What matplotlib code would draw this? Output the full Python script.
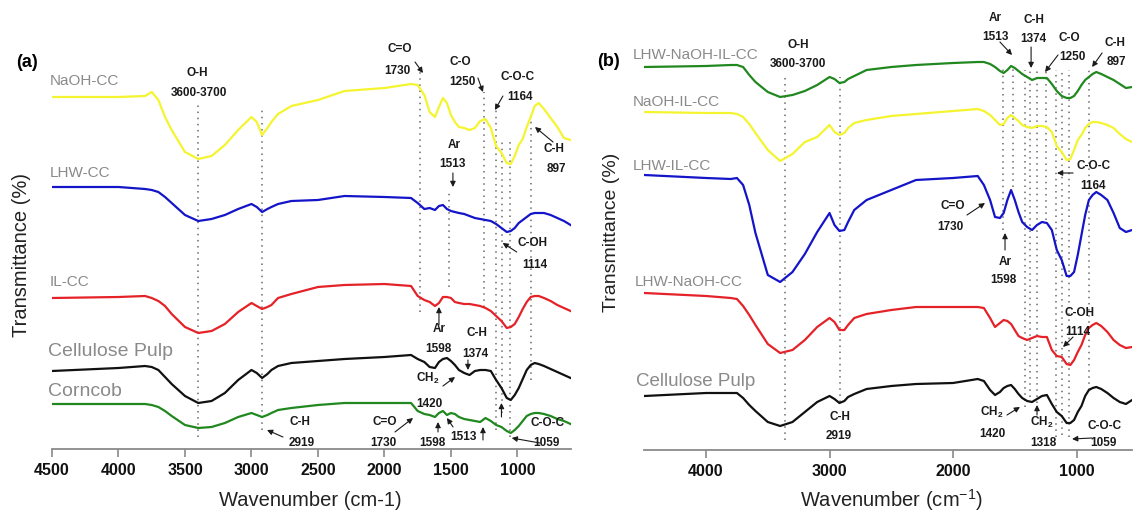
import matplotlib
matplotlib.use('Agg')
import matplotlib.pyplot as plt

plt.rcParams['font.family'] = ['Liberation Sans', 'DejaVu Sans']
plt.rcParams['mathtext.fontset'] = 'custom'
plt.rcParams['mathtext.rm'] = 'Liberation Sans'
plt.rcParams['mathtext.it'] = 'Liberation Sans:italic'
plt.rcParams['mathtext.bf'] = 'Liberation Sans:bold'

# ---------------- panel (a): wavenumber grid and offset transmittance ----------------
wn_a = [4500, 4000, 3800, 3750, 3700, 3650, 3600, 3500, 3400, 3300,
        3200, 3100, 3000, 2960, 2920, 2880, 2850, 2800, 2700, 2500,
        2300, 2000, 1800, 1750, 1700, 1660, 1620, 1590, 1560, 1530,
        1500, 1470, 1440, 1400, 1360, 1320, 1280, 1240, 1200, 1160,
        1120, 1080, 1050, 1020, 990, 960, 930, 900, 870, 840,
        800, 750, 700, 650, 600]

naoh_cc = [352, 352, 353, 357, 349, 332, 319, 297, 290, 293,
           304, 319, 332, 327, 314, 321, 327, 335, 343, 349,
           358, 361, 365, 364, 354, 337, 332, 342, 351, 346,
           334, 327, 322, 321, 319, 321, 328, 330, 321, 303,
           296, 286, 285, 293, 304, 310, 322, 332, 343, 346,
           340, 331, 322, 311, 309]
lhw_cc = [262, 262, 260, 259, 257, 252, 246, 234, 228, 230,
          234, 240, 245, 242, 237, 240, 242, 245, 248, 249,
          253, 252, 251, 246, 240, 241, 239, 243, 244, 240,
          238, 237, 236, 235, 233, 231, 230, 229, 228, 225,
          221, 217, 218, 221, 226, 229, 232, 235, 236, 236,
          236, 234, 231, 228, 224]
il_cc = [151, 152, 153, 151, 148, 143, 135, 122, 116, 118,
         125, 137, 146, 143, 140, 142, 144, 151, 155, 162,
         164, 165, 163, 153, 149, 147, 143, 146, 152, 152,
         151, 147, 146, 145, 145, 144, 143, 141, 138, 133,
         128, 121, 122, 125, 132, 140, 147, 152, 153, 153,
         151, 148, 144, 141, 138]
pulp_a = [78, 81, 83, 82, 79, 72, 65, 53, 46, 48,
          56, 69, 79, 76, 71, 75, 79, 83, 86, 88,
          90, 92, 94, 90, 87, 82, 81, 87, 90, 91,
          88, 84, 79, 76, 74, 78, 79, 79, 78, 69,
          61, 51, 49, 54, 61, 70, 79, 84, 86, 85,
          83, 80, 77, 74, 71]
corncob = [45, 45, 45, 44, 42, 38, 33, 24, 21, 22,
           26, 32, 36, 34, 32, 34, 36, 39, 41, 44,
           46, 46, 46, 38, 35, 34, 32, 36, 38, 34,
           36, 35, 32, 30, 29, 28, 27, 31, 28, 24,
           22, 18, 16, 19, 23, 28, 33, 35, 36, 36,
           35, 33, 30, 28, 25]

# ---------------- panel (b) ----------------
wn_b = [4500, 4000, 3800, 3750, 3700, 3650, 3600, 3500, 3400, 3300,
        3200, 3100, 3000, 2960, 2920, 2880, 2850, 2800, 2700, 2500,
        2300, 2000, 1800, 1750, 1700, 1660, 1620, 1590, 1560, 1530,
        1500, 1470, 1440, 1400, 1360, 1320, 1280, 1240, 1200, 1160,
        1120, 1080, 1050, 1020, 990, 960, 930, 900, 870, 840,
        800, 750, 700, 650, 600, 550]

lhw_naoh_il_cc = [383, 384, 385, 385, 383, 375, 368, 358, 353, 355,
                  359, 365, 373, 371, 367, 368, 371, 374, 380, 383,
                  385, 387, 388, 388, 386, 383, 379, 377, 380, 384,
                  382, 379, 376, 373, 370, 372, 372, 372, 366, 359,
                  354, 352, 352, 354, 359, 365, 370, 373, 376, 378,
                  376, 373, 370, 366, 362, 363]
naoh_il_cc = [338, 337, 337, 336, 333, 326, 317, 300, 289, 296,
              308, 313, 325, 318, 315, 317, 322, 327, 330, 334,
              336, 339, 341, 339, 335, 330, 325, 326, 332, 335,
              332, 329, 325, 323, 322, 324, 324, 323, 318, 304,
              298, 290, 291, 300, 310, 315, 322, 326, 328, 328,
              327, 325, 322, 316, 311, 308]
lhw_il_cc = [275, 272, 271, 272, 265, 245, 217, 175, 168, 178,
             196, 218, 237, 225, 219, 220, 228, 240, 250, 260,
             270, 272, 274, 265, 250, 233, 232, 237, 250, 260,
             250, 238, 228, 223, 220, 225, 228, 227, 220, 200,
             190, 174, 174, 178, 195, 215, 235, 250, 255, 258,
             255, 250, 237, 222, 218, 220]
lhw_naoh_cc = [157, 154, 152, 151, 144, 135, 125, 106, 97, 100,
               110, 123, 132, 128, 120, 120, 125, 132, 136, 140,
               143, 143, 143, 142, 132, 123, 127, 130, 129, 126,
               120, 114, 112, 110, 112, 114, 113, 113, 100, 94,
               93, 86, 85, 90, 98, 105, 115, 122, 125, 127,
               124, 118, 110, 105, 102, 103]
pulp_b = [54, 57, 57, 57, 52, 45, 39, 28, 24, 28,
          38, 48, 54, 51, 47, 49, 53, 56, 61, 64,
          66, 67, 71, 69, 60, 55, 58, 62, 64, 65,
          61, 56, 52, 49, 48, 51, 54, 55, 46, 38,
          34, 27, 27, 30, 38, 44, 54, 60, 62, 63,
          61, 57, 52, 48, 46, 50]

# band markers: (wavenumber, bottom, top)
bands_a = [(3400, 12, 347), (2919, 19, 339), (1730, 137, 379), (1513, 162, 259),
           (1250, 142, 357), (1164, 19, 339), (1114, 36, 311), (1059, 12, 307),
           (897, 69, 337)]
bands_b = [(3360, 10, 373), (2919, 48, 373), (1598, 220, 383), (1513, 263, 383),
           (1420, 43, 380), (1374, 53, 380), (1318, 47, 380), (1250, 230, 380),
           (1164, 13, 380), (1114, 15, 380), (1059, 13, 380), (897, 60, 383)]

# peak labels: (text, wavenumber, height)
labels_a = [('O-H', 3410, 376), ('3600-3700', 3395, 356),
            ('C=O', 1883, 400), ('1730', 1906, 378),
            ('C-O', 1432, 387), ('1250', 1417, 367),
            ('C-O-C', 996, 372), ('1164', 981, 352),
            ('Ar', 1477, 304), ('1513', 1485, 285),
            ('C-H', 725, 300), ('897', 710, 280),
            ('C-OH', 890, 206), ('1114', 868, 184),
            ('Ar', 1590, 120), ('1598', 1597, 100),
            ('C-H', 1304, 116), ('1374', 1319, 95),
            (r'CH$_{\mathbf{2}}$', 1672, 71), ('1420', 1665, 45),
            ('C-H', 2635, 27), ('2919', 2620, 6),
            ('C=O', 1996, 27), ('1730', 2011, 6),
            ('1598', 1642, 6), ('1513', 1409, 12),
            ('C-O-C', 770, 26), ('1059', 785, 6)]
labels_b = [('O-H', 3255, 405), ('3600-3700', 3255, 386),
            ('Ar', 1660, 432), ('1513', 1660, 413),
            ('C-H', 1344, 430), ('1374', 1352, 411),
            ('C-O', 1061, 412), ('1250', 1036, 393),
            ('C-H', 690, 407), ('897', 680, 388),
            ('C-O-C', 866, 284), ('1164', 866, 264),
            ('C=O', 2000, 244), ('1730', 2024, 223),
            ('Ar', 1579, 188), ('1598', 1595, 170),
            ('C-OH', 972, 137), ('1114', 988, 118),
            (r'CH$_{\mathbf{2}}$', 1684, 38), ('1420', 1684, 16),
            (r'CH$_{\mathbf{2}}$', 1279, 28), ('1318', 1271, 7),
            ('C-O-C', 769, 24), ('1059', 785, 7),
            ('C-H', 2915, 33), ('2919', 2923, 14)]

# arrows: (tail wn, tail height, head wn, head height)
arrows_a = [(1770, 387, 1710, 376), (1297, 371, 1259, 357), (1109, 353, 1169, 339),
            (1485, 276, 1485, 262), (732, 307, 868, 322), (1005, 197, 1111, 206),
            (1590, 124, 1590, 142), (1372, 89, 1372, 79), (1560, 63, 1469, 72),
            (1120, 32, 1120, 46), (2763, 12, 2883, 19), (1921, 17, 1785, 31),
            (1597, 17, 1597, 27), (1484, 22, 1530, 31), (1259, 9, 1259, 22),
            (830, 6, 1043, 11)]
arrows_b = [(1620, 408, 1522, 395), (1368, 403, 1368, 382), (1150, 395, 1255, 378),
            (793, 397, 874, 383), (1028, 277, 1158, 277), (1887, 235, 1741, 247),
            (1579, 200, 1579, 217), (1028, 113, 1109, 103), (1563, 35, 1458, 43),
            (1320, 35, 1320, 45), (875, 12, 1036, 11)]

YELLOW = '#f4f430'
BLUE = '#1414c8'
RED = '#e42228'
BLACK = '#111111'
GREEN = '#21881f'
GREY = '#8a8a8a'

series_a = [('NaOH-CC', naoh_cc, YELLOW, 4515, 368, 11),
            ('LHW-CC', lhw_cc, BLUE, 4515, 276, 11),
            ('IL-CC', il_cc, RED, 4515, 167, 11),
            ('Cellulose Pulp', pulp_a, BLACK, 4530, 97, 14),
            ('Corncob', corncob, GREEN, 4530, 57, 14)]
series_b = [('LHW-NaOH-IL-CC', lhw_naoh_il_cc, GREEN, 4591, 395, 11),
            ('NaOH-IL-CC', naoh_il_cc, YELLOW, 4591, 348, 11),
            ('LHW-IL-CC', lhw_il_cc, BLUE, 4591, 284, 11),
            ('LHW-NaOH-CC', lhw_naoh_cc, RED, 4575, 168, 11),
            ('Cellulose Pulp', pulp_b, BLACK, 4567, 69, 13.5)]


def draw_panel(ax, wn, series, bands, labels, arrows, xlim, ticks):
    for w, lo, hi in bands:
        ax.plot([w, w], [lo, hi], color='#6a6a6a', ls=(0, (1, 3)), lw=1.1, zorder=1)
    for name, vals, color, lx, ly, fs in series:
        ax.plot(wn, vals, color=color, lw=1.6, zorder=2)
        ax.text(lx, ly, name, color=GREY, fontsize=fs, ha='left', va='center')
    for txt, x, y in labels:
        ax.text(x, y, txt, fontsize=8.5, fontweight='bold', ha='center', va='center',
                color='#1a1a1a', zorder=4)
    for x0, y0, x1, y1 in arrows:
        ax.annotate('', xy=(x1, y1), xytext=(x0, y0),
                    arrowprops=dict(arrowstyle='-|>', color='#1a1a1a', lw=0.8,
                                    mutation_scale=8, shrinkA=0, shrinkB=0), zorder=4)
    ax.set_xlim(*xlim)
    ax.set_ylim(0, 410)
    ax.set_yticks([])
    ax.set_xticks(ticks)
    ax.set_xticklabels([str(t) for t in ticks], fontweight='bold', fontsize=11.5)
    for s in ['left', 'top', 'right']:
        ax.spines[s].set_visible(False)
    ax.spines['bottom'].set_color('#8a8a8a')
    ax.spines['bottom'].set_linewidth(1.3)
    ax.tick_params(axis='x', direction='out', length=6, width=1.2, color='#8a8a8a',
                   pad=4, labelcolor='#111111')
    ax.patch.set_alpha(0)


fig = plt.figure(figsize=(11.34, 5.13), dpi=100)
W, H = 1134.0, 513.0

ax_a = fig.add_axes([52 / W, (H - 449) / H, (570.6 - 52) / W, 410 / H])
draw_panel(ax_a, wn_a, series_a, bands_a, labels_a, arrows_a, (4500, 600),
           [4500, 4000, 3500, 3000, 2500, 2000, 1500, 1000])

ax_b = fig.add_axes([644.3 / W, (H - 450) / H, (1132.1 - 644.3) / W, 410 / H])
draw_panel(ax_b, wn_b, series_b, bands_b, labels_b, arrows_b, (4500, 550),
           [4000, 3000, 2000, 1000])

fig.text(27 / W, 1 - 63 / H, '(a)', fontsize=13, fontweight='bold', ha='center', va='center')
fig.text(608 / W, 1 - 62 / H, '(b)', fontsize=13, fontweight='bold', ha='center', va='center')
fig.text(22 / W, 1 - 255 / H, 'Transmittance (%)', fontsize=14.5, rotation=90,
         ha='center', va='center', color='#222222')
fig.text(612 / W, 1 - 232 / H, 'Transmittance (%)', fontsize=14, rotation=90,
         ha='center', va='center', color='#222222')
fig.text(310 / W, 1 - 500 / H, 'Wavenumber (cm-1)', fontsize=14.5,
         ha='center', va='center', color='#222222')
fig.text(891 / W, 1 - 500 / H, r'Wavenumber (cm$^{\mathrm{-1}}$)', fontsize=14.5,
         ha='center', va='center', color='#222222')

fig.savefig('out.png', dpi=100)
